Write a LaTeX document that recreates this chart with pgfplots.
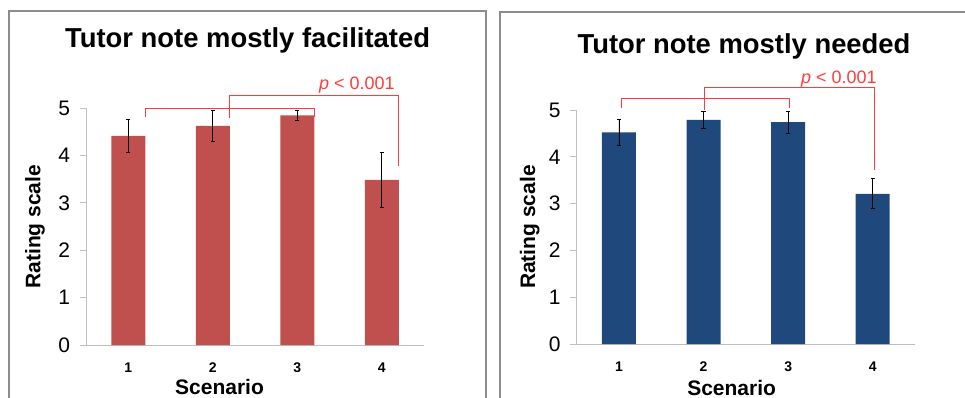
\documentclass[border=0pt]{standalone}
\usepackage{fontspec}
\setmainfont{Liberation Sans}
\usepackage{pgfplots}
\pgfplotsset{compat=1.18}
\definecolor{barred}{HTML}{C0504D}
\definecolor{barblue}{HTML}{1F497D}
\definecolor{axgray}{HTML}{BFBFBF}
\definecolor{framegray}{HTML}{8C8C8C}
\definecolor{annred}{HTML}{FF3C3C}
\pgfplotsset{myax/.style={
  scale only axis, width=338pt,
  xmin=0.5, xmax=4.5, ymin=0, ymax=5,
  axis x line=bottom, axis y line=left,
  axis line style={-, axgray, line width=1pt},
  xtick={1,2,3,4}, ytick={0,1,2,3,4,5},
  xtick style={draw=none},
  ytick style={axgray, line width=1pt},
  tick align=outside, major tick length=6.5pt,
  /pgf/number format/assume math mode=true,
  yticklabel style={font=\fontsize{21}{21}\selectfont, xshift=-6pt},
  xticklabel style={font=\fontsize{14}{14}\selectfont\bfseries, yshift=-8pt},
  ylabel style={font=\fontsize{21}{21}\selectfont\bfseries, anchor=center},
  title style={font=\fontsize{27.4}{27.4}\selectfont\bfseries, anchor=base, inner sep=0pt},
  xlabel style={font=\fontsize{21}{21}\selectfont\bfseries, anchor=base, inner sep=0pt},
  ybar, bar width=34pt,
  clip=false,
  error bars/error bar style={black, line width=0.7pt},
  error bars/error mark options={rotate=90, black, mark size=2.2pt, line width=0.7pt},
}}
\begin{document}
\begin{tikzpicture}
\useasboundingbox (0pt,0pt) rectangle (965pt,-398pt);
\draw[framegray, line width=1.5pt] (9pt,-420pt) -- (9pt,-11pt) -- (486pt,-11pt) -- (486pt,-420pt);
\draw[framegray, line width=1.5pt] (500pt,-420pt) -- (500pt,-12pt) -- (980pt,-12pt);

\begin{axis}[myax, at={(86pt,-345pt)}, anchor=south west, height=236.7pt,
  title={Tutor note mostly facilitated},
  title style={at={(axis description cs:0.478,1.232)}},
  ylabel={Rating scale},
  ylabel style={at={(axis description cs:-0.151,0.5)}},
  xlabel={Scenario},
  xlabel style={at={(axis description cs:0.395,-0.211)}}]
\addplot[fill=barred, draw=none,
  error bars/.cd, y dir=both, y explicit]
  coordinates {(1,4.42) +- (0,0.34) (2,4.63) +- (0,0.32) (3,4.85) +- (0,0.11) (4,3.49) +- (0,0.58)};
\draw[annred, line width=1pt] (axis cs:1.2,4.82) -- (axis cs:1.2,5.0) -- (axis cs:3.2,5.0) -- (axis cs:3.2,4.82);
\draw[annred, line width=1pt] (axis cs:2.2,4.79) -- (axis cs:2.2,5.26) -- (axis cs:4.196,5.26) -- (axis cs:4.196,3.79);
\node[annred, anchor=base west, inner sep=0pt, font=\fontsize{18}{18}\selectfont] at (axis cs:3.257,5.387) {{\itshape p} < 0.001};
\end{axis}

\begin{axis}[myax, at={(576.7pt,-344pt)}, anchor=south west, height=234pt, width=338.3pt,
  title={Tutor note mostly needed},
  title style={at={(axis description cs:0.4945,1.217)}},
  ylabel={Rating scale},
  ylabel style={at={(axis description cs:-0.139,0.5)}},
  xlabel={Scenario},
  xlabel style={at={(axis description cs:0.458,-0.218)}}]
\addplot[fill=barblue, draw=none,
  error bars/.cd, y dir=both, y explicit]
  coordinates {(1,4.52) +- (0,0.27) (2,4.79) +- (0,0.19) (3,4.74) +- (0,0.24) (4,3.21) +- (0,0.32)};
\draw[annred, line width=1pt] (axis cs:1.03,5.04) -- (axis cs:1.03,5.24) -- (axis cs:3.02,5.24) -- (axis cs:3.02,5.04);
\draw[annred, line width=1pt] (axis cs:2.01,5.01) -- (axis cs:2.01,5.48) -- (axis cs:4.018,5.48) -- (axis cs:4.018,3.72);
\node[annred, anchor=base west, inner sep=0pt, font=\fontsize{18}{18}\selectfont] at (axis cs:3.152,5.556) {{\itshape p} < 0.001};
\end{axis}
\end{tikzpicture}
\end{document}
